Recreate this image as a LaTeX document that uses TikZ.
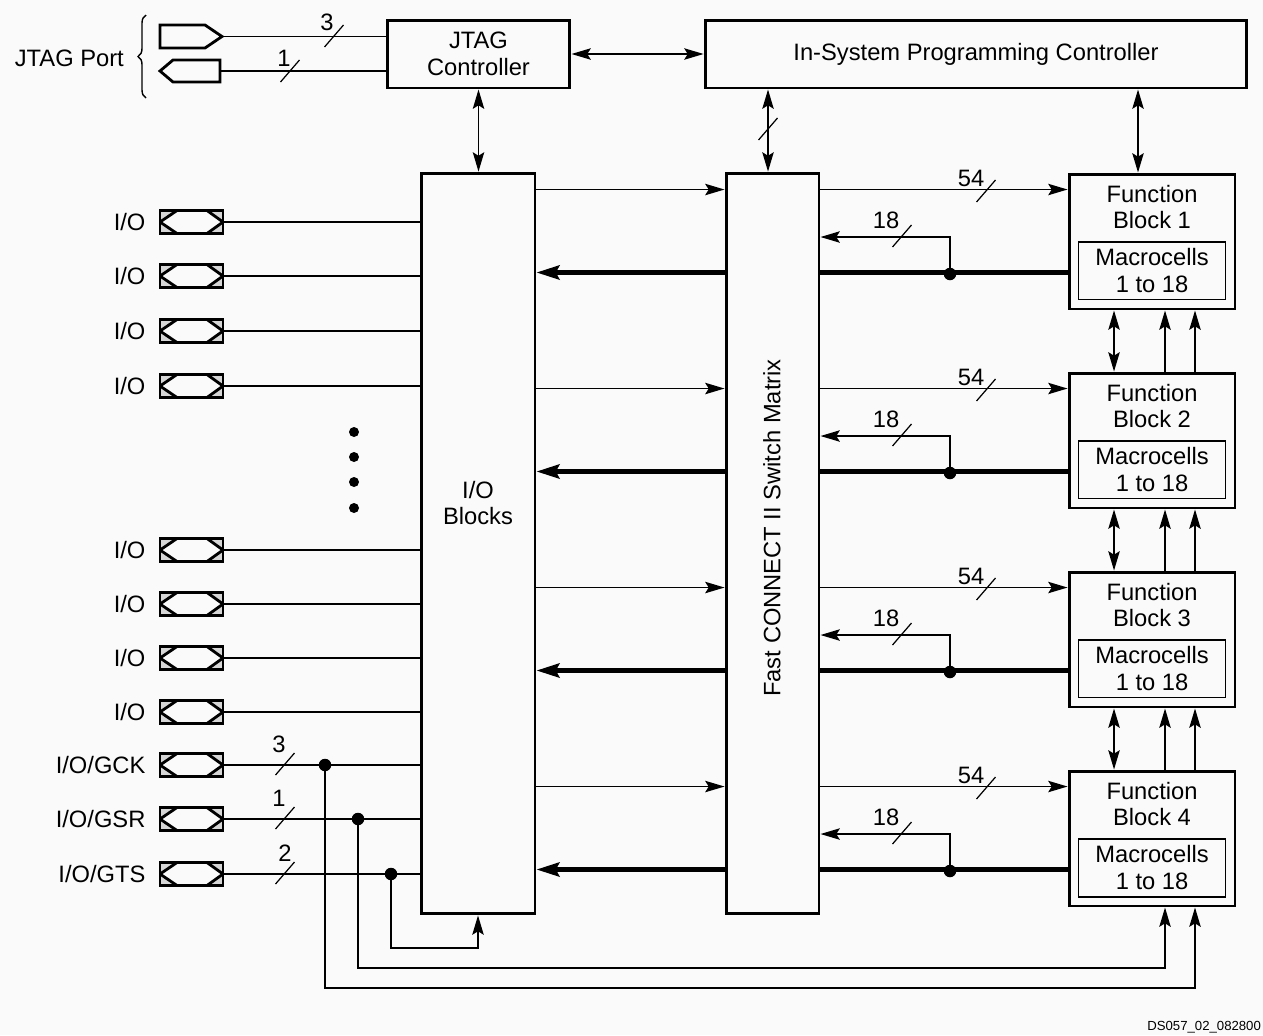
\documentclass[tikz,border=0pt]{standalone}
\usepackage{fontspec}
\setmainfont{Liberation Sans}
\usetikzlibrary{arrows.meta,positioning,decorations.pathreplacing}
\definecolor{paper}{RGB}{250,250,250}

\begin{document}
\begin{tikzpicture}[
  x=0.02cm,
  y=-0.02cm,
  >={Stealth[length=11pt,width=6.5pt,inset=2pt]},
  every node/.style={font=\fontsize{13.5}{15.3}\selectfont},
  block/.style={draw,line width=1.7pt,inner sep=0pt,align=center},
  macro/.style={
    draw,
    line width=0.9pt,
    minimum width=2.94cm,
    minimum height=1.16cm,
    inner sep=0pt,
    align=center
  },
  sig/.style={line width=0.85pt},
  bus/.style={line width=2.5pt},
  busin/.style={bus,-{Stealth[length=13pt,width=8pt,inset=2pt]}},
  dbl/.style={<->,line width=0.85pt},
  tick/.style={line width=0.7pt},
  dot/.style={circle,fill=black,inner sep=0pt,minimum size=0.25cm},
  jpad/.style={line width=1.6pt,line join=miter},
  pad/.style={
    draw,
    line width=1.6pt,
    fill=black!16,
    minimum width=1.26cm,
    minimum height=0.46cm,
    inner sep=0pt,
    path picture={
      \draw[line width=1.6pt,fill=paper]
        (path picture bounding box.west)
        -- ([xshift=0.34cm]path picture bounding box.north west)
        -- ([xshift=-0.32cm]path picture bounding box.north east)
        -- (path picture bounding box.east)
        -- ([xshift=-0.32cm]path picture bounding box.south east)
        -- ([xshift=0.34cm]path picture bounding box.south west)
        -- cycle;
    }
  }
]

% Page and margins.
\fill[paper] (0,0) rectangle (1263,1035);
\useasboundingbox (0,0) rectangle (1263,1035);

% Main blocks.
\node[block,minimum width=3.66cm,minimum height=1.36cm] (jtag) at (478.5,54) {JTAG\\Controller};
\node[block,minimum width=10.84cm,minimum height=1.36cm] (isp) at (976,54) {In-System Programming Controller};
\node[block,minimum width=2.28cm,minimum height=14.82cm] (iob) at (478,543.5) {};
\node[align=center] (iobtext) at (478,503) {I/O\\Blocks};
\node[block,minimum width=1.86cm,minimum height=14.82cm] (fcm) at (772.5,543.5) {};
\node[rotate=90] (fcmtext) at (772,528) {Fast CONNECT II Switch Matrix};

% JTAG port.
\draw[jpad] (160,25) -- (205,25) -- (222,36.5) -- (205,48) -- (160,48) -- cycle;
\draw[jpad] (220,60) -- (173,60) -- (160,71) -- (173,82) -- (220,82) -- cycle;
\coordinate (tdo) at (222,36.5);
\coordinate (tdi) at (220,71);
\draw[sig] (tdo) -- (jtag.west |- tdo);
\draw[sig] (tdi) -- (jtag.west |- tdi);
\draw[tick] (334,36) +(-9.5,11) -- +(9.5,-11);
\draw[tick] (290,71) +(-9.5,11) -- +(9.5,-11);
\node (tdow) at (327,22) {3};
\node (tdiw) at (284,58) {1};
\draw[line width=0.8pt,decorate,decoration={brace,amplitude=0.16cm}] (146,98) -- (146,15);
\node[anchor=east] (jtagport) at (130,58) {JTAG Port};

% Controller links.
\draw[dbl] (jtag.east) -- (isp.west);
\draw[dbl] (jtag.south) -- (jtag.south |- iob.north);
\coordinate (fcmtop) at ([xshift=-0.09cm]fcm.north);
\draw[dbl] (isp.south -| fcmtop) -- (fcmtop);
\draw[tick] (768,129) +(-9.5,11) -- +(9.5,-11);

% User I/O pins.
\foreach \y [count=\n] in {222,276,331,386,550,604,658,712} {
  \node[pad] (io\n) at (191.5,\y) {};
  \node[left=0.14cm of io\n] {I/O};
  \draw[sig] (io\n.east) -- (iob.west |- io\n.east);
}
\foreach \y [count=\n] in {432,457,482,508}
  \node[dot,minimum size=0.2cm] (more\n) at (354,\y) {};

% Global pins.
\foreach \name/\y/\w/\lx/\dx in {GCK/765/3/279/325,GSR/819/1/279/358,GTS/874/2/285/391} {
  \node[pad] (g\name) at (191.5,\y) {};
  \node[left=0.14cm of g\name] {I/O/\name};
  \draw[sig] (g\name.east) -- (iob.west |- g\name.east);
  \draw[tick] (285,\y-1) +(-9.5,11) -- +(9.5,-11);
  \node (w\name) at (\lx,\y-21) {\w};
  \node[dot] (dot\name) at (\dx,\y) {};
}

% Function blocks and their buses.
\foreach \i in {1,...,4} {
  \pgfmathsetmacro\yy{199*(\i-1)}
  \node[block,minimum width=3.32cm,minimum height=2.7cm] (fb\i) at (1152,241.5+\yy) {};
  \node[align=center] (fbname\i) at ([yshift=-0.69cm]fb\i.north) {Function\\Block \i};
  \node[macro,above=0.2cm of fb\i.south] (mc\i) {Macrocells\\1 to 18};
  \coordinate (in\i) at ([yshift=-0.34cm]fb\i.north west);
  \coordinate (out\i) at ([yshift=-2cm]fb\i.north west);
  \draw[sig,->] (iob.east |- in\i) -- (fcm.west |- in\i);
  \draw[sig,->] (fcm.east |- in\i) -- (in\i);
  \draw[tick] (986,191+\yy) +(-9.5,11) -- +(9.5,-11);
  \node (w54\i) at (971,178+\yy) {54};
  \draw[bus] (out\i) -- (fcm.east |- out\i);
  \draw[busin] (fcm.west |- out\i) -- (iob.east |- out\i);
  \node[dot] (tap\i) at (950,274+\yy) {};
  \draw[sig,->] (tap\i.center) |- ([yshift=0.74cm]fcm.east |- tap\i);
  \draw[tick] (902,236+\yy) +(-9.5,11) -- +(9.5,-11);
  \node (w18\i) at (886,220+\yy) {18};
}
\coordinate (ispfb) at ([xshift=-0.28cm]fb1.north);
\draw[dbl] (isp.south -| ispfb) -- (ispfb);

% Links between neighbouring function blocks.
\foreach \i/\j in {1/2,2/3,3/4} {
  \draw[dbl] ([xshift=-0.76cm]fb\i.south) -- ([xshift=-0.76cm]fb\j.north);
  \draw[sig,->] ([xshift=0.26cm]fb\j.north) -- ([xshift=0.26cm]fb\i.south);
  \draw[sig,->] ([xshift=0.86cm]fb\j.north) -- ([xshift=0.86cm]fb\i.south);
}

% Global signal returns.
\coordinate (gtsret) at (391,948);
\coordinate (gsrret) at (358,968);
\coordinate (gckret) at (325,988);
\draw[sig,->] (dotGTS.center) -- (gtsret) -| (iob.south);
\draw[sig,->] (dotGSR.center) -- (gsrret) -| ([xshift=0.26cm]fb4.south);
\draw[sig,->] (dotGCK.center) -- (gckret) -| ([xshift=0.86cm]fb4.south);

\node[font=\fontsize{7.5}{9}\selectfont,anchor=south east,inner sep=1pt] (dsno) at (1263,1035) {DS057\_02\_082800};

\end{tikzpicture}
\end{document}
